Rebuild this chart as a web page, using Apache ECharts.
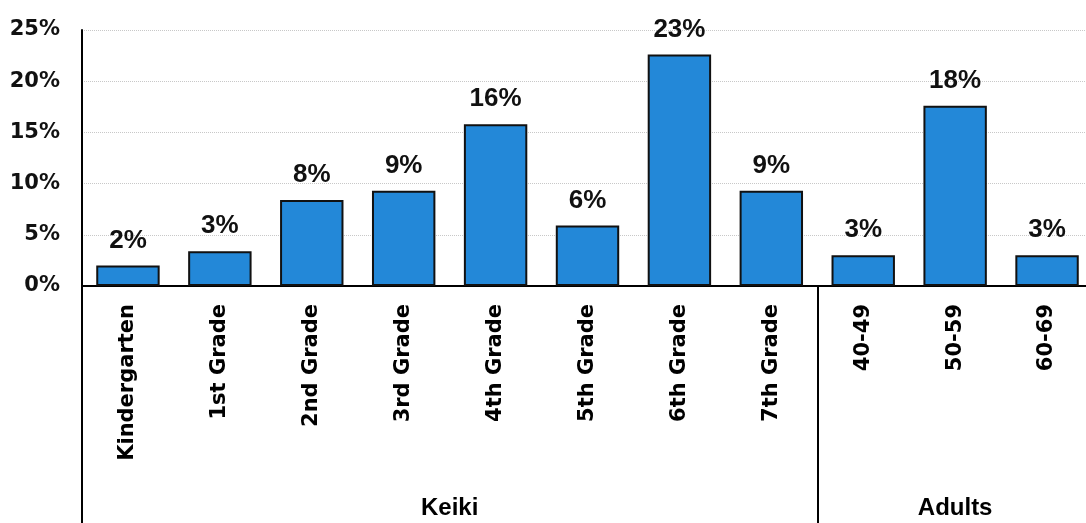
<!DOCTYPE html>
<html>
<head>
<meta charset="utf-8">
<script src="https://cdn.jsdelivr.net/npm/echarts@6/dist/echarts.min.js"></script>
<style>
html,body{margin:0;padding:0;background:#fff;}
#c{width:1086px;height:523px;}
</style>
</head>
<body>
<div id="c"></div>
<script>
const categories = ['Kindergarten','1st Grade','2nd Grade','3rd Grade','4th Grade','5th Grade','6th Grade','7th Grade','40-49','50-59','60-69'];
const values = [2.0, 3.4, 8.4, 9.3, 15.8, 5.9, 22.6, 9.3, 3.0, 17.6, 3.0];
const valueLabels = ['2%','3%','8%','9%','16%','6%','23%','9%','3%','18%','3%'];
const groups = ['Keiki','Adults'];
const groupCenters = [3.5, 9];
const groupBoundaries = [0, 8];
const yTicks = [0,5,10,15,20,25];

const chart = echarts.init(document.getElementById('c'));
chart.setOption({
  animation:false,
  backgroundColor:'#fff',
  grid:{left:82, top:30, width:1011, height:256, containLabel:false, outerBoundsMode:'none'},
  xAxis:[{
    type:'category',
    data:categories,
    position:'bottom',
    axisLine:{show:true, onZero:false, lineStyle:{color:'#000', width:2}},
    axisTick:{show:true, inside:false, length:240, alignWithLabel:false,
      interval:(i)=>groupBoundaries.includes(i),
      lineStyle:{color:'#000', width:2}},
    axisLabel:{rotate:90, margin:18, color:'#000', fontFamily:'DejaVu Sans', fontWeight:'bold', fontSize:21, interval:0}
  },{
    type:'value',
    position:'bottom',
    min:-0.5, max:10.5, interval:0.5,
    axisLine:{show:false, onZero:false}, axisTick:{show:false}, splitLine:{show:false},
    axisLabel:{show:true, margin:210, color:'#000', fontFamily:'Liberation Sans', fontWeight:'bold', fontSize:24,
      showMinLabel:true, showMaxLabel:true,
      formatter:(v)=>{const k=groupCenters.findIndex(c=>Math.abs(c-v)<1e-6); return k>=0?groups[k]:'';}}
  }],
  yAxis:{
    type:'value', min:yTicks[0], max:yTicks[yTicks.length-1], interval:5,
    axisLine:{show:true, onZero:false, lineStyle:{color:'#000', width:2}},
    axisTick:{show:false},
    splitLine:{show:true, lineStyle:{color:'#c8c8c8', type:'dotted', width:1}},
    axisLabel:{formatter:'{value}%', margin:22, color:'#111', fontFamily:'DejaVu Sans', fontWeight:'bold', fontSize:21}
  },
  series:[{
    type:'bar',
    xAxisIndex:0,
    data:values,
    barWidth:'69%',
    itemStyle:{color:'#2388d8', borderColor:'#111', borderWidth:2},
    label:{show:true, position:'top', distance:12, color:'#111', fontFamily:'Liberation Sans', fontWeight:'bold', fontSize:26,
      formatter:(p)=>valueLabels[p.dataIndex]}
  }]
});
</script>
</body>
</html>
